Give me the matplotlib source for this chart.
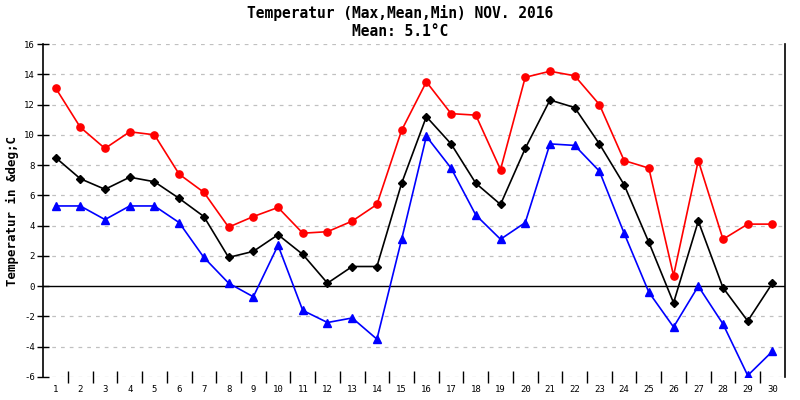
import matplotlib
matplotlib.use('Agg')
import matplotlib.pyplot as plt

days = list(range(1, 31))
t_max = [13.1, 10.5, 9.1, 10.2, 10.0, 7.4, 6.2, 3.9, 4.6, 5.2,
         3.5, 3.6, 4.3, 5.4, 10.3, 13.5, 11.4, 11.3, 7.7, 13.8,
         14.2, 13.9, 12.0, 8.3, 7.8, 0.7, 8.3, 3.1, 4.1, 4.1]
t_mean = [8.5, 7.1, 6.4, 7.2, 6.9, 5.8, 4.6, 1.9, 2.3, 3.4,
          2.1, 0.2, 1.3, 1.3, 6.8, 11.2, 9.4, 6.8, 5.4, 9.1,
          12.3, 11.8, 9.4, 6.7, 2.9, -1.1, 4.3, -0.1, -2.3, 0.2]
t_min = [5.3, 5.3, 4.4, 5.3, 5.3, 4.2, 1.9, 0.2, -0.7, 2.7,
         -1.6, -2.4, -2.1, -3.5, 3.1, 9.9, 7.8, 4.7, 3.1, 4.2,
         9.4, 9.3, 7.6, 3.5, -0.4, -2.7, 0.0, -2.5, -5.9, -4.3]
yticks = list(range(-6, 17, 2))

mono = 'DejaVu Sans Mono'

fig = plt.figure(figsize=(8, 4), dpi=100)
ax = fig.add_axes([0.054, 0.0575, 0.927, 0.8325])

for v in yticks:
    if v != 0:
        ax.axhline(v, color='#c0c0c0', lw=0.9, ls=(0, (3, 4)), zorder=0)
ax.axhline(0, color='black', lw=1.0, zorder=1)

ax.plot(days, t_max, color='#ff0000', lw=1.2, marker='o', ms=5.2, zorder=3)
ax.plot(days, t_mean, color='black', lw=1.2, marker='D', ms=4, zorder=3)
ax.plot(days, t_min, color='#0000ff', lw=1.2, marker='^', ms=5.5, zorder=3)

ax.set_xlim(0.5, 30.5)
ax.set_ylim(-6, 16)
ax.set_yticks(yticks)
ax.set_yticklabels([str(v) for v in yticks], fontsize=6.5, family=mono)
ax.set_xticks(days)
ax.set_xticklabels([str(d) for d in days], fontsize=6.5, family=mono)
ax.tick_params(axis='x', length=0, pad=6)
ax.set_xticks([d + 0.5 for d in days[:-1]], minor=True)
ax.tick_params(axis='x', which='minor', direction='inout', length=8, width=1, color='black')
ax.tick_params(axis='y', direction='inout', length=8, width=1, pad=2)

for s in ['top', 'bottom']:
    ax.spines[s].set_visible(False)
ax.spines['left'].set_linewidth(1.2)
ax.spines['right'].set_linewidth(1.2)

ax.set_ylabel('Temperatur in &deg;C', fontsize=9, family=mono, fontweight='bold', labelpad=4)

fig.text(0.5, 0.967, 'Temperatur (Max,Mean,Min) NOV. 2016', ha='center', va='center',
         fontsize=10.5, family=mono, fontweight='bold')
fig.text(0.5, 0.92, 'Mean: 5.1°C', ha='center', va='center',
         fontsize=10.5, family=mono, fontweight='bold')

fig.savefig('out.png', dpi=100)
